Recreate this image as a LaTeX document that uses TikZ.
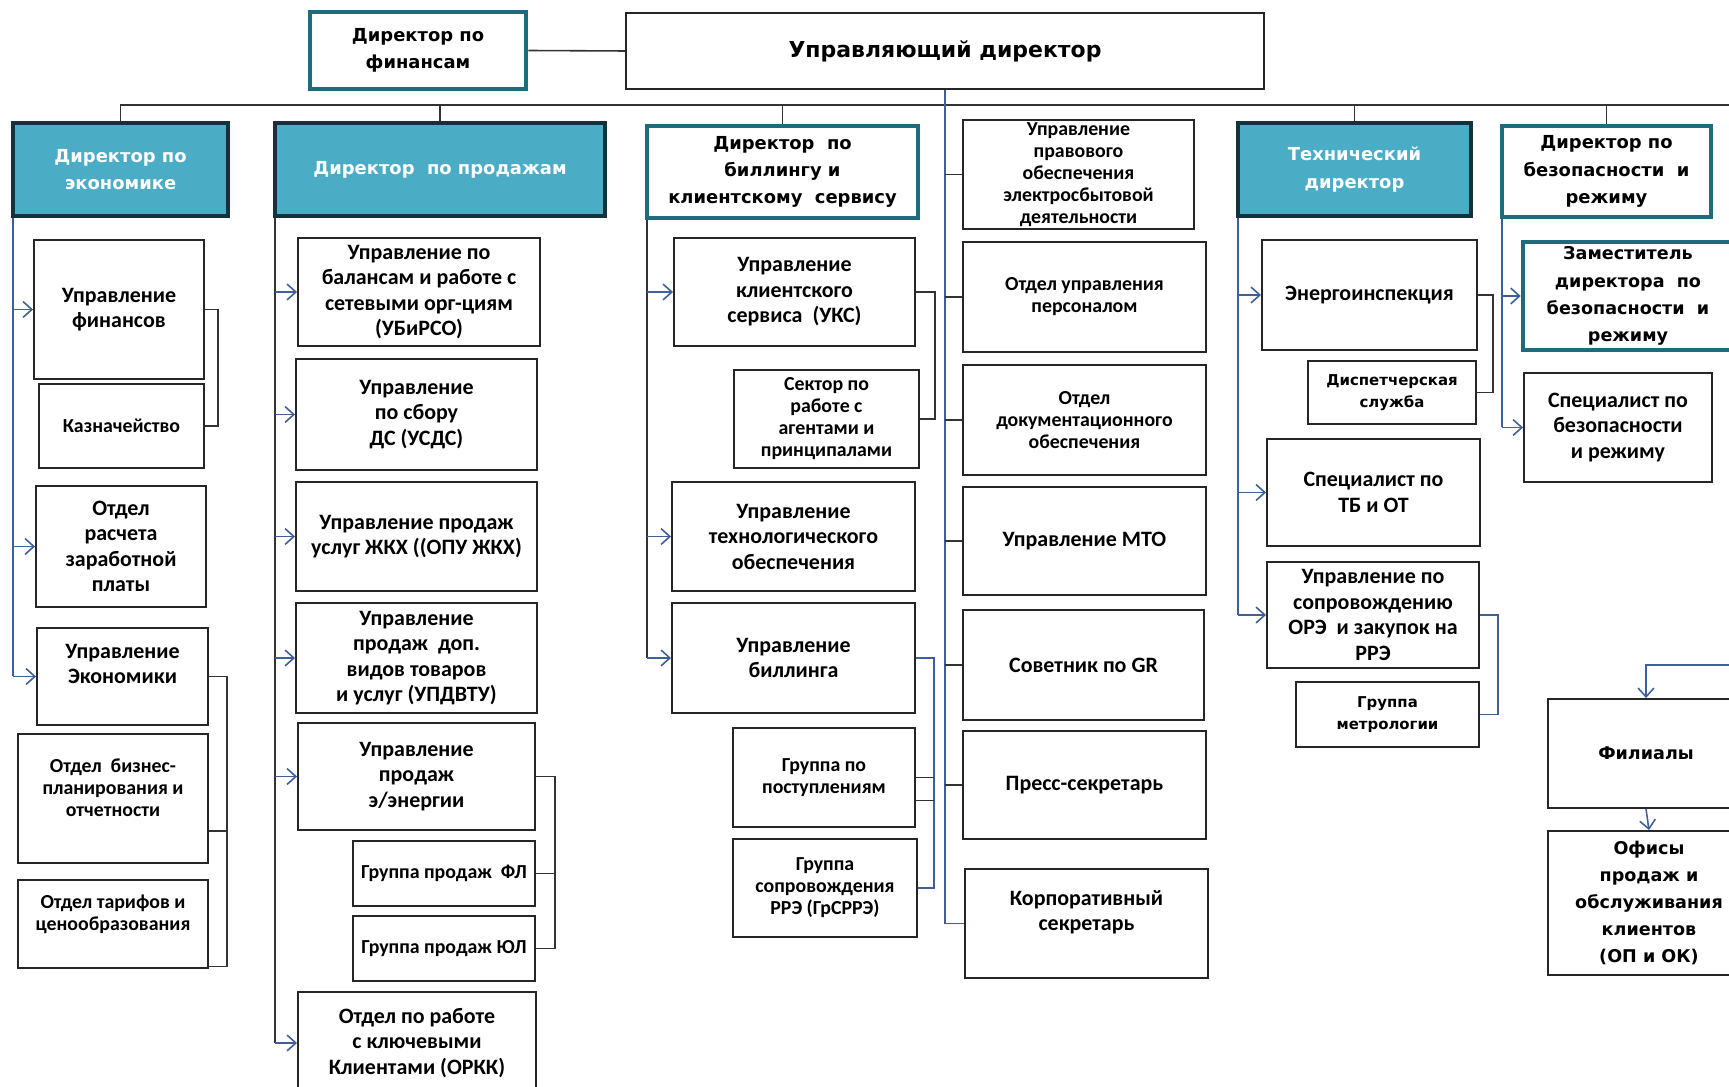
\documentclass[tikz,border=0pt]{standalone}
\usepackage{fontspec}
\setmainfont{Carlito}
\newfontfamily\verdfont{DejaVu Sans}
\usetikzlibrary{arrows.meta}

\definecolor{tealfill}{HTML}{4BACC6}
\definecolor{tealdark}{HTML}{14313C}
\definecolor{tealline}{HTML}{1E6B7E}
\definecolor{linkblue}{HTML}{3F5F9A}

\tikzset{
  sz/.style 2 args={minimum width=#1*0.02cm, minimum height=#2*0.02cm},
  unit/.style={draw=black!85, line width=1.1pt, fill=white, align=center, inner sep=0pt,
    font=\bfseries\fontsize{12.5}{14.5}\selectfont},
  unitsm/.style={unit, font=\bfseries\fontsize{11.3}{12.5}\selectfont},
  unitv/.style={unit, font=\verdfont\bfseries\fontsize{8.5}{12.3}\selectfont},
  unitwide/.style={unit, font=\verdfont\bfseries\fontsize{10}{15.5}\selectfont},
  chief/.style={draw=tealline, line width=2.6pt, fill=white, align=center, inner sep=0pt,
    font=\verdfont\bfseries\fontsize{10.2}{15.5}\selectfont},
  chieffill/.style={chief, draw=tealdark, fill=tealfill, text=white},
  link/.style={draw=black!80, line width=0.9pt},
  bluelink/.style={draw=linkblue, line width=0.9pt},
  arr/.style={bluelink, -{Straight Barb[length=5pt,width=9pt]}}
}

\begin{document}
\begin{tikzpicture}[x=0.02cm, y=-0.02cm]
  \fill[white] (0,0) rectangle (1729,1087);
  \useasboundingbox (0,0) rectangle (1729,1087);

  \node[chief, sz={216}{77}] (fin) at (418,50.5) {Директор по\\финансам};
  \node[unit, sz={638}{76}, font=\verdfont\bfseries\fontsize{12.5}{15}\selectfont] (uprav) at (945,51) {Управляющий директор};

  \node[chieffill, sz={215}{93}] (econ) at (120.5,169.5) {Директор по\\экономике};
  \node[chieffill, sz={330}{93}] (sales) at (440,169.5) {Директор~ по продажам};
  \node[chief, sz={271}{92}] (bill) at (782.5,172) {Директор~ по\\биллингу и\\клиентскому~ сервису};
  \node[unitsm, sz={231}{109}] (prav) at (1078.5,174.5) {Управление\\правового\\обеспечения\\электросбытовой\\деятельности};
  \node[chieffill, sz={233}{93}] (tech) at (1354.5,169.5) {Технический\\директор};
  \node[chief, sz={209}{91}] (sec) at (1606.5,171.5) {Директор по\\безопасности~ и\\режиму};

  \node[unit, sz={170}{139}] (ufin) at (119,309.5) {Управление\\финансов};
  \node[unitsm, sz={165}{84}] (kazn) at (121.5,426) {Казначейство};
  \node[unit, sz={170}{121}] (zarp) at (121,546.5) {Отдел\\расчета\\заработной\\платы};
  \node[unit, sz={171}{97}] (ueco) at (122.5,676.5) {Управление\\Экономики\\\mbox{}};
  \node[unitsm, sz={190}{129}] (biz) at (113,798.5) {Отдел~ бизнес-\\планирования и\\отчетности\\\mbox{}};
  \node[unitsm, sz={190}{88}] (tarif) at (113,924) {Отдел тарифов и\\ценообразования\\\mbox{}};

  \node[unit, sz={242}{108}] (bal) at (419,292) {Управление по\\балансам и работе с\\сетевыми орг-циям\\(УБиРСО)};
  \node[unit, sz={241}{111}] (sbor) at (416.5,414.5) {Управление\\по сбору\\ДС (УСДС)};
  \node[unit, sz={241}{109}] (zhkh) at (416.5,536.5) {Управление продаж\\услуг ЖКХ ((ОПУ ЖКХ)};
  \node[unit, sz={241}{110}] (dop) at (416.5,658) {Управление\\продаж~ доп.\\видов товаров\\и услуг (УПДВТУ)};
  \node[unit, sz={237}{107}] (uen) at (416.5,776.5) {Управление\\продаж\\э/энергии};
  \node[unitsm, sz={182}{65}] (fl) at (444,873.5) {Группа продаж~ ФЛ};
  \node[unitsm, sz={182}{65}] (ul) at (444,948.5) {Группа продаж ЮЛ};
  \node[unit, sz={238}{102}] (ork) at (417,1043) {Отдел по работе\\с ключевыми\\Клиентами (ОРКК)};

  \node[unit, sz={241}{108}] (uks) at (794.5,292) {Управление\\клиентского\\сервиса~ (УКС)};
  \node[unitsm, sz={185}{98}] (sekt) at (826.5,419) {Сектор по\\работе с\\агентами и\\принципалами};
  \node[unit, sz={243}{109}] (tehn) at (793.5,536.5) {Управление\\технологического\\обеспечения};
  \node[unit, sz={243}{110}] (ubill) at (793.5,658) {Управление\\биллинга};
  \node[unitsm, sz={182}{99}] (post) at (824,777.5) {Группа по\\поступлениям};
  \node[unitsm, sz={184}{98}] (soprov) at (825,888) {Группа\\сопровождения\\РРЭ (ГрСРРЭ)};

  \node[unitsm, sz={243}{110}] (pers) at (1084.5,297) {Отдел управления\\персоналом};
  \node[unitsm, sz={243}{110}] (doc) at (1084.5,420) {Отдел\\документационного\\обеспечения};
  \node[unit, sz={243}{108}] (mto) at (1084.5,541) {Управление МТО};
  \node[unit, sz={241}{110}] (gr) at (1083.5,665) {Советник по GR};
  \node[unit, sz={243}{108}] (press) at (1084.5,785) {Пресс-секретарь};
  \node[unit, sz={243}{109}] (korp) at (1086.5,923.5) {Корпоративный\\секретарь\\\mbox{}};

  \node[unit, sz={215}{110}] (energo) at (1369.5,295) {Энергоинспекция};
  \node[unitv, sz={168}{63}] (disp) at (1392,392.5) {Диспетчерская\\служба};
  \node[unit, sz={213}{107}] (tb) at (1373.5,492.5) {Специалист по\\ТБ и ОТ};
  \node[unit, sz={212}{106}] (ore) at (1373,615) {Управление по\\сопровождению\\ОРЭ~ и закупок на\\РРЭ};
  \node[unitv, sz={183}{65}] (metr) at (1387.5,714.5) {Группа\\метрологии};

  \node[chief, sz={210}{108}, font=\verdfont\bfseries\fontsize{10}{15.5}\selectfont] (zam) at (1628,296) {Заместитель\\директора~ по\\безопасности~ и\\режиму};
  \node[unit, sz={188}{109}] (spec) at (1618,427.5) {Специалист по\\безопасности\\и режиму};
  \node[unitwide, sz={196}{109}] (fil) at (1646,753.5) {Филиалы};
  \node[unitwide, sz={202}{144}] (ofis) at (1649,903) {Офисы\\продаж и\\обслуживания\\клиентов\\(ОП и ОК)};

  \draw[link] (fin.east) -- (uprav.west);
  \coordinate (busend) at (1729,105);
  \draw[link] (econ.north) |- (busend);
  \foreach \d in {sales,bill,tech,sec}
    \draw[link] (\d.north) -- (\d.north |- busend);

  \draw[bluelink] (uprav.south) -- (uprav.south |- korp.west) -- (korp.west);
  \foreach \m in {prav,pers,doc,mto,gr,press}
    \draw[link] (uprav.south |- \m.west) -- (\m.west);

  \coordinate (econbar) at ([xshift=1.2pt]econ.south west);
  \draw[bluelink] (econbar) -- (econbar |- ueco.west);
  \foreach \n in {ufin,zarp,ueco}
    \draw[arr] (econbar |- \n.west) -- (\n.west);
  \draw[link] (ufin.east) -- ++(13,0) |- (kazn.east);
  \draw[link] (ueco.east) -- ++(18,0) |- ([yshift=1.5pt]tarif.south east);
  \draw[link] ([yshift=18.7pt]biz.south east) -- ++(18,0);

  \coordinate (salesbar) at ([xshift=1.2pt]sales.south west);
  \draw[link] (salesbar) -- (salesbar |- ork.west);
  \foreach \n in {bal,sbor,zhkh,dop,uen,ork}
    \draw[arr] (salesbar |- \n.west) -- (\n.west);
  \draw[link] (uen.east) -- ++(19,0) |- (ul.east);
  \draw[link] (fl.east) -- ++(19,0);

  \coordinate (billbar) at ([xshift=1.2pt]bill.south west);
  \draw[link] (billbar) -- (billbar |- ubill.west);
  \foreach \n in {uks,tehn,ubill}
    \draw[arr] (billbar |- \n.west) -- (\n.west);
  \draw[link] (uks.east) -- ++(19,0) |- (sekt.east);
  \draw[bluelink] (ubill.east) -- ++(18,0) |- (soprov.east);
  \draw[link] (post.east) -- ++(18,0);
  \draw[link] ([yshift=-13pt]post.east) -- ++(18,0);

  \coordinate (techbar) at ([xshift=1.2pt]tech.south west);
  \draw[bluelink] (techbar) -- (techbar |- ore.west);
  \foreach \n in {energo,tb,ore}
    \draw[arr] (techbar |- \n.west) -- (\n.west);
  \draw[link] (energo.east) -- ++(15,0) |- (disp.east);
  \draw[bluelink] (ore.east) -- ++(18,0) |- (metr.east);

  \coordinate (secbar) at ([xshift=1.2pt]sec.south west);
  \draw[bluelink] (secbar) -- (secbar |- spec.west);
  \foreach \n in {zam,spec}
    \draw[arr] (secbar |- \n.west) -- (\n.west);

  \coordinate (filin) at (1729,665);
  \draw[arr] (filin) -| (fil.north);
  \draw[arr] (fil.south) -- (ofis.north);
\end{tikzpicture}
\end{document}
